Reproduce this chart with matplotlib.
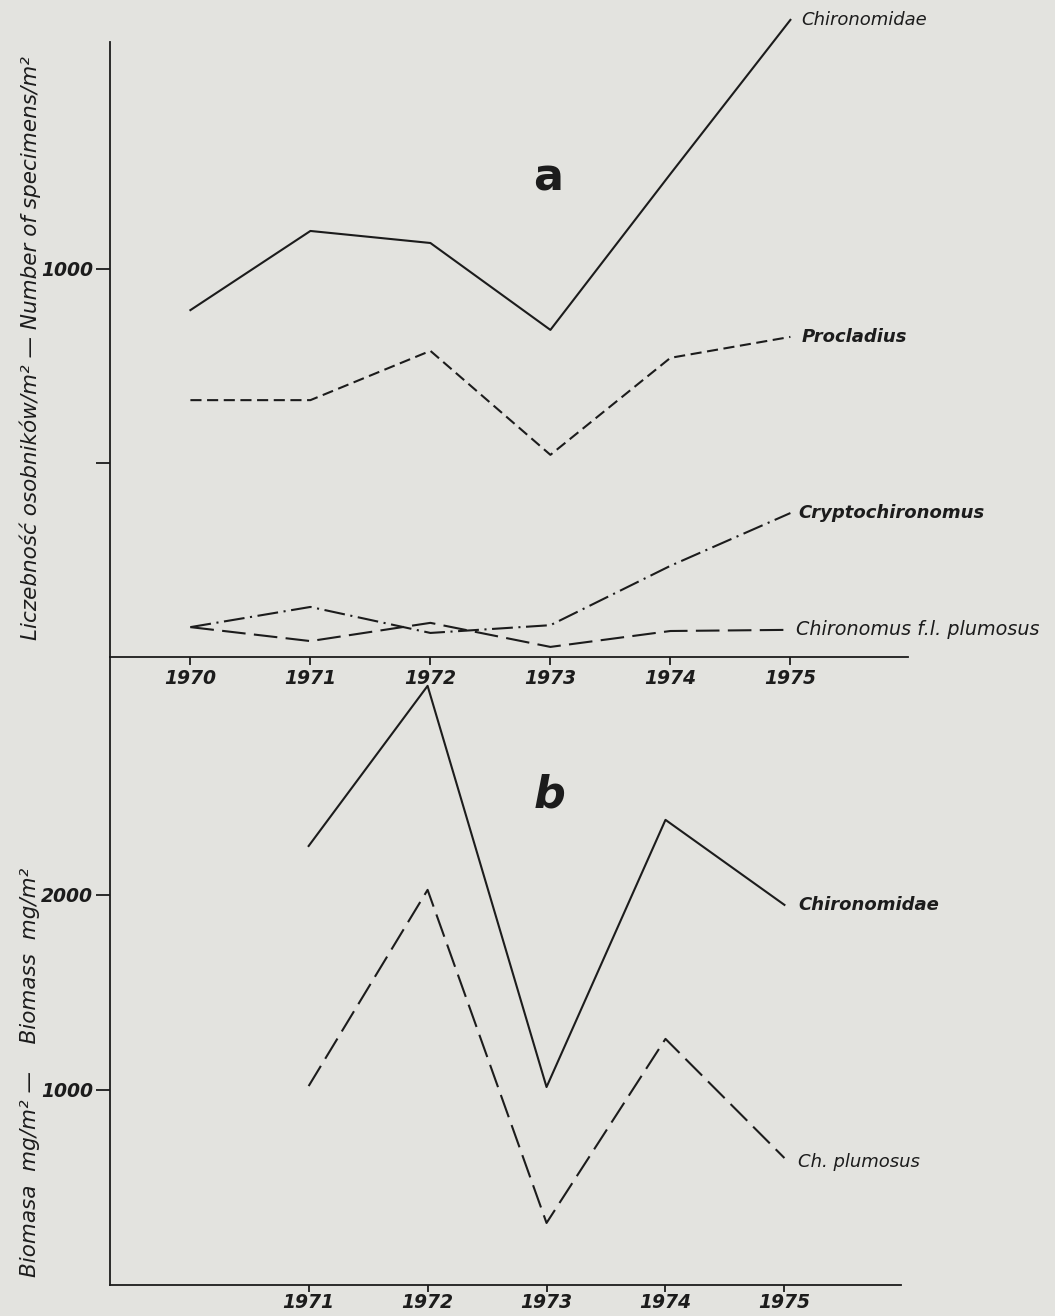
import matplotlib
matplotlib.use('Agg')
import matplotlib.pyplot as plt

# panel a - number of specimens / m2
years_a = [1970, 1971, 1972, 1973, 1974, 1975]
chironomidae_a = [894, 1098, 1067, 843, 1245, 1642]
procladius = [662, 662, 789, 521, 771, 825]
cryptochironomus = [77, 129, 62, 82, 235, 371]
plumosus_a = [77, 41, 88, 26, 67, 70]

# panel b - biomass mg / m2
years_b = [1971, 1972, 1973, 1974, 1975]
chironomidae_b = [2251, 3072, 1015, 2385, 1949]
plumosus_b = [1020, 2026, 318, 1262, 651]

bgcol = '#e3e3df'
ink = '#1c1c1c'
plt.rcParams['font.family'] = 'DejaVu Sans'
plt.rcParams['lines.scale_dashes'] = False

W, H = 1055, 1316
fig = plt.figure(figsize=(W / 100, H / 100), dpi=100)
fig.set_facecolor(bgcol)

def px_axes(left, top, right, bottom):
    return fig.add_axes([left / W, 1 - bottom / H, (right - left) / W, (bottom - top) / H])

ax_a = px_axes(110, 42, 908, 657)
ax_b = px_axes(110, 657, 901, 1285)

for ax in (ax_a, ax_b):
    ax.set_facecolor('none')
    for s in ('top', 'right'):
        ax.spines[s].set_visible(False)
    for s in ('left', 'bottom'):
        ax.spines[s].set_color(ink)
        ax.spines[s].set_linewidth(1.3)
    ax.tick_params(direction='out', width=1.3, color=ink)
    ax.tick_params(axis='y', length=10, pad=2)
    ax.set_xlim(1969.33, 1975.98)

ax_a.tick_params(axis='x', length=6, pad=3)
ax_b.tick_params(axis='x', length=5, pad=1)

ax_a.set_ylim(0, 1585)
ax_b.set_ylim(0, 3220)

lw = 1.5
ax_a.plot(years_a, chironomidae_a, color=ink, lw=lw, clip_on=False)
ax_a.plot(years_a, procladius, color=ink, lw=lw, ls=(0, (8, 4)), clip_on=False)
ax_a.plot(years_a, cryptochironomus, color=ink, lw=lw, ls=(0, (15, 4, 1.5, 4)), clip_on=False)
ax_a.plot(years_a, plumosus_a, color=ink, lw=lw, ls=(0, (17, 6)), clip_on=False)

ax_b.plot(years_b, chironomidae_b, color=ink, lw=lw, clip_on=False)
ax_b.plot(years_b, plumosus_b, color=ink, lw=lw, ls=(0, (17, 6)), clip_on=False)

ax_a.set_xticks(years_a)
ax_b.set_xticks(years_b)
ax_a.set_yticks([500, 1000])
ax_a.set_yticklabels(['', '1000'])
ax_b.set_yticks([1000, 2000])
ax_b.set_yticklabels(['1000', '2000'])

for ax in (ax_a, ax_b):
    for lab in ax.get_xticklabels() + ax.get_yticklabels():
        lab.set_fontsize(13.5)
        lab.set_fontstyle('italic')
        lab.set_fontweight('bold')
        lab.set_color(ink)

lab_kw = dict(fontsize=13, style='italic', color=ink, va='center', ha='left',
              textcoords='offset points', annotation_clip=False)
ax_a.annotate('Chironomidae', (years_a[-1], chironomidae_a[-1]), xytext=(8, 0), **lab_kw)
ax_a.annotate('Procladius', (years_a[-1], procladius[-1]), xytext=(8, 0), fontweight='bold', **lab_kw)
ax_a.annotate('Cryptochironomus', (years_a[-1], cryptochironomus[-1]), xytext=(6, 0), fontweight='bold', **lab_kw)
ax_a.annotate('Chironomus f.l. plumosus', (years_a[-1], plumosus_a[-1]), xytext=(4, 0),
              **dict(lab_kw, fontsize=13.8))
ax_b.annotate('Chironomidae', (years_b[-1], chironomidae_b[-1]), xytext=(10, 0), fontweight='bold', **lab_kw)
ax_b.annotate('Ch. plumosus', (years_b[-1], plumosus_b[-1]), xytext=(10, -3), **lab_kw)

fig.text(548 / W, 1 - 178 / H, 'a', fontsize=32, fontweight='bold', color=ink, ha='center', va='center')
fig.text(550 / W, 1 - 795 / H, 'b', fontsize=32, fontweight='bold', style='italic', color=ink,
         ha='center', va='center')

fig.text(30 / W, 1 - 348 / H, 'Liczebność osobników/m² — Number of specimens/m²', rotation=90,
         fontsize=15.5, style='italic', color=ink, ha='center', va='center')
fig.text(30 / W, 1 - 1072 / H, 'Biomasa  mg/m² —    Biomass  mg/m²', rotation=90,
         fontsize=15.5, style='italic', color=ink, ha='center', va='center')

fig.savefig('out.png', dpi=100, facecolor=bgcol)
